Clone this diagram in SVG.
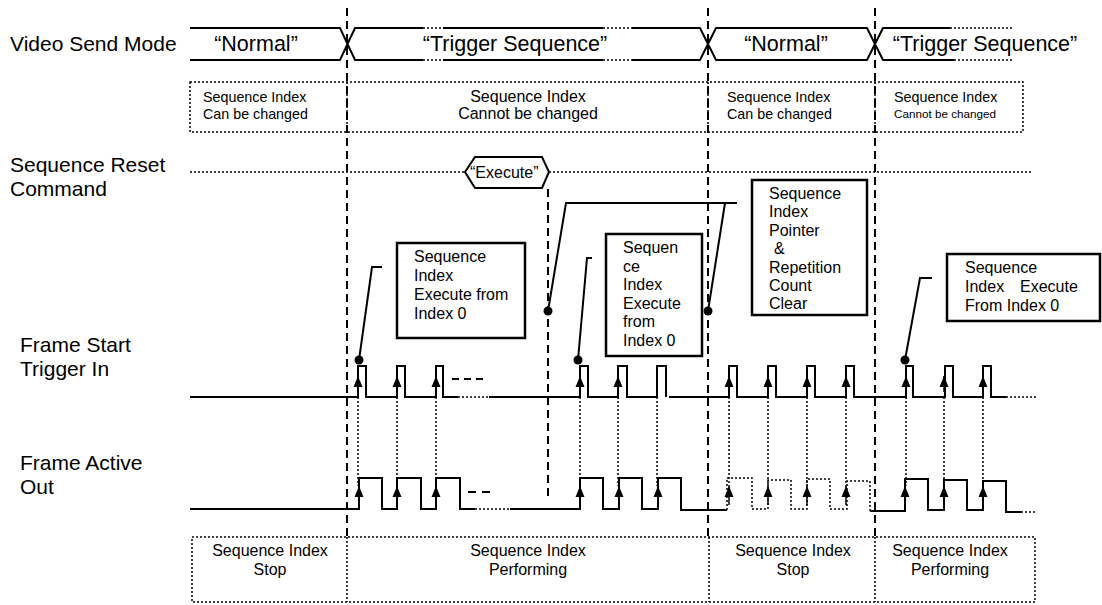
<svg xmlns="http://www.w3.org/2000/svg" width="1102" height="605" viewBox="0 0 1102 605">
<style>
text{font-family:"Liberation Sans",Arial,sans-serif;fill:#000}
.lbl{font-size:21px}
.mode{font-size:21.5px}
.s16{font-size:16px}
.s14{font-size:14.3px}
.s12{font-size:11.7px}
.solid{fill:none;stroke:#000;stroke-width:2}
.dot{fill:none;stroke:#000;stroke-width:1.5;stroke-dasharray:2 2}
.dash{fill:none;stroke:#000;stroke-width:2;stroke-dasharray:8 5}
.box{fill:#fff;stroke:#000;stroke-width:2.5}
.pin{fill:#000}
.arr{fill:none;stroke:#000;stroke-width:1.5;marker-end:url(#ah)}
</style>
<defs>
<marker id="ah" markerUnits="userSpaceOnUse" markerWidth="10" markerHeight="12" refX="5" refY="0" orient="0" viewBox="0 -1 10 12" overflow="visible">
<path d="M5,0 L9.5,11 L0.5,11 Z" fill="#000"/>
</marker>
</defs>
<rect width="1102" height="605" fill="#fff"/>

<g id="labels">
<text class="lbl" x="10" y="51">Video Send Mode</text>
<text class="lbl" x="10" y="172">Sequence Reset</text>
<text class="lbl" x="10" y="196">Command</text>
<text class="lbl" x="20" y="352">Frame Start</text>
<text class="lbl" x="20" y="376">Trigger In</text>
<text class="lbl" x="20" y="470">Frame Active</text>
<text class="lbl" x="20" y="494">Out</text>
</g>

<g id="video-send-mode">
<path class="solid" d="M190,28 H340 L355,60 H423 M190,60 H340 L355,28 H423 M443,28 H603 M443,60 H603 M632,28 H700 L716,60 H867 L883,28 H950 M632,60 H700 L716,28 H867 L883,60 H954"/>
<path class="dot" d="M423,28 H443 M423,60 H443 M603,28 H632 M603,60 H632 M950,28 H1013 M954,60 H1013"/>
<text class="mode" x="256" y="51" text-anchor="middle">“Normal”</text>
<text class="mode" x="515" y="51" text-anchor="middle">“Trigger Sequence”</text>
<text class="mode" x="786" y="51" text-anchor="middle">“Normal”</text>
<text class="mode" x="985" y="51" text-anchor="middle">“Trigger Sequence”</text>
</g>

<g id="index-change-boxes">
<rect class="dot" x="190" y="82" width="833" height="50"/>
<path class="dot" d="M347,82 V132 M708,82 V132 M875,82 V132"/>
<text class="s14" x="203" y="102">Sequence Index</text>
<text class="s14" x="203" y="119">Can be changed</text>
<text class="s16" x="528" y="102" text-anchor="middle">Sequence Index</text>
<text class="s16" x="528" y="119" text-anchor="middle">Cannot be changed</text>
<text class="s14" x="727" y="102">Sequence Index</text>
<text class="s14" x="727" y="119">Can be changed</text>
<text class="s14" x="894" y="102">Sequence Index</text>
<text class="s12" x="894" y="118">Cannot be changed</text>
</g>

<g id="sequence-reset">
<path class="dot" d="M190,172 H465 M549,172 H1032"/>
<polygon class="solid" fill="#fff" points="465,172 475,157 542,157 549,172 542,188 475,188"/>
<text class="s16" x="470" y="178">“Execute”</text>
</g>

<g id="dividers">
<path class="dash" d="M347,8 V540 M708,8 V540 M875,8 V540 M548,189 V500"/>
</g>

<g id="frame-start-trigger">
<path class="solid" d="M190,397 H358 V366 H366 V397 H397 V366 H405 V397 H436 V366 H443 V397 H458 M489,397 H580 V366 H588 V397 H618 V366 H627 V397 H657 V366 H666 V397 M669,397 H729 V366 H737 V397 H768 V366 H776 V397 H807 V366 H815 V397 H846 V366 H854 V397 H906 V366 H913 V397 H945 V366 H953 V397 H983 V366 H991 V397 H1006"/>
<path class="dot" d="M458,397 H489 M1006,397 H1036"/>
<path fill="none" stroke="#000" stroke-width="2" stroke-dasharray="7 5" d="M452,379 H484"/>
</g>

<g id="frame-active-out">
<path class="solid" d="M190,509 H359 V478 H382 V509 H397 V478 H421 V509 H436 V478 H460 V509 H475 M510,509 H580 V478 H603 V509 H619 V478 H642 V509 H658 V478 H681 V510 H727 M870,511 H905 V479 H928 V510 H944 V480 H967 V510 H983 V481 H1006 V512 H1021"/>
<path class="dot" d="M475,509 H510 M727,510 V478 H752 V509 H768 V480 H791 V509 H807 V479 H830 V509 H847 V481 H870 V511 M1021,512 H1036"/>
<path fill="none" stroke="#000" stroke-width="2" stroke-dasharray="8 6" d="M468,492 H492"/>
</g>

<g id="connectors">
<path class="dot" d="M358,397 V486 M397,397 V486 M436,397 V486 M580,397 V486 M618,397 V486 M657,397 V486 M729,397 V486 M768,397 V486 M807,397 V486 M846,397 V486 M906,397 V486 M944,397 V486 M983,397 V486"/>
<path class="arr" d="M358,392 V376"/>
<path class="arr" d="M397,392 V376"/>
<path class="arr" d="M436,392 V376"/>
<path class="arr" d="M580,392 V376"/>
<path class="arr" d="M618,392 V376"/>
<path class="arr" d="M729,392 V376"/>
<path class="arr" d="M768,392 V376"/>
<path class="arr" d="M807,392 V376"/>
<path class="arr" d="M846,392 V376"/>
<path class="arr" d="M906,392 V376"/>
<path class="arr" d="M944,392 V376"/>
<path class="arr" d="M983,392 V376"/>
<path class="arr" d="M359,505 V486"/>
<path class="arr" d="M397,505 V486"/>
<path class="arr" d="M436,505 V486"/>
<path class="arr" d="M580,505 V486"/>
<path class="arr" d="M619,505 V486"/>
<path class="arr" d="M658,505 V486"/>
<path class="arr" d="M729,505 V486"/>
<path class="arr" d="M768,505 V486"/>
<path class="arr" d="M807,505 V486"/>
<path class="arr" d="M846,505 V486"/>
<path class="arr" d="M905,505 V486"/>
<path class="arr" d="M944,505 V486"/>
<path class="arr" d="M983,505 V486"/>
<path class="solid" d="M359,360 L372,267 H382 M548,311 L566,203 H737 M708,311 L725,203 M578,360 L587,258 H592 M905,360 L920,278 H932"/>
<circle class="pin" cx="359" cy="360" r="4.5"/>
<circle class="pin" cx="548" cy="311" r="4.5"/>
<circle class="pin" cx="708" cy="311" r="4.5"/>
<circle class="pin" cx="578" cy="360" r="4.5"/>
<circle class="pin" cx="905" cy="360" r="4.5"/>
</g>

<g id="note-execute-1">
<rect class="box" x="397" y="243" width="128" height="95"/>
<text class="s16" x="414" y="262">Sequence</text>
<text class="s16" x="414" y="281">Index</text>
<text class="s16" x="414" y="300">Execute from</text>
<text class="s16" x="414" y="319">Index 0</text>
</g>

<g id="note-execute-2">
<rect class="box" x="606" y="234" width="96" height="122"/>
<text class="s16" x="623" y="253">Sequen</text>
<text class="s16" x="623" y="272">ce</text>
<text class="s16" x="623" y="290">Index</text>
<text class="s16" x="623" y="309">Execute</text>
<text class="s16" x="623" y="327">from</text>
<text class="s16" x="623" y="346">Index 0</text>
</g>

<g id="note-clear">
<rect class="box" x="752" y="180" width="115" height="135"/>
<text class="s16" x="769" y="199">Sequence</text>
<text class="s16" x="769" y="217">Index</text>
<text class="s16" x="769" y="236">Pointer</text>
<text class="s16" x="774" y="254">&amp;</text>
<text class="s16" x="769" y="273">Repetition</text>
<text class="s16" x="769" y="291">Count</text>
<text class="s16" x="769" y="309">Clear</text>
</g>

<g id="note-execute-3">
<rect class="box" x="947" y="254" width="153" height="67"/>
<text class="s16" x="965" y="273">Sequence</text>
<text class="s16" x="965" y="292">Index</text>
<text class="s16" x="1020" y="292">Execute</text>
<text class="s16" x="965" y="311">From Index 0</text>
</g>

<g id="state-boxes">
<rect class="dot" x="192" y="537" width="843" height="65"/>
<path class="dot" d="M347,537 V602 M709,537 V602 M875,537 V602"/>
<text class="s16" x="270" y="556" text-anchor="middle">Sequence Index</text>
<text class="s16" x="270" y="575" text-anchor="middle">Stop</text>
<text class="s16" x="528" y="556" text-anchor="middle">Sequence Index</text>
<text class="s16" x="528" y="575" text-anchor="middle">Performing</text>
<text class="s16" x="793" y="556" text-anchor="middle">Sequence Index</text>
<text class="s16" x="793" y="575" text-anchor="middle">Stop</text>
<text class="s16" x="950" y="556" text-anchor="middle">Sequence Index</text>
<text class="s16" x="950" y="575" text-anchor="middle">Performing</text>
</g>
</svg>
